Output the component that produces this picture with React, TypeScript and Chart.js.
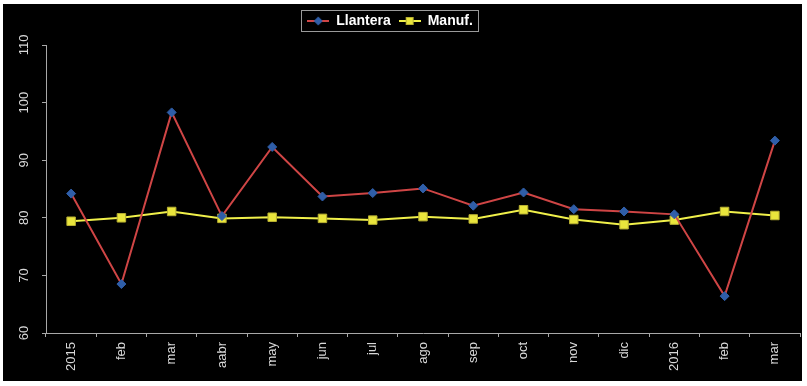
import { useEffect, useRef } from 'react';
import { Chart, registerables } from 'chart.js';

Chart.register(...registerables);

const categories = ['2015', 'feb', 'mar', 'aabr', 'may', 'jun', 'jul', 'ago', 'sep', 'oct', 'nov', 'dic', '2016', 'feb', 'mar'];
const llantera = [84.2, 68.5, 98.3, 80.3, 92.3, 83.7, 84.3, 85.1, 82.1, 84.4, 81.5, 81.1, 80.6, 66.4, 93.4];
const manuf = [79.4, 80.0, 81.1, 79.9, 80.1, 79.9, 79.6, 80.2, 79.8, 81.4, 79.7, 78.8, 79.6, 81.1, 80.4];
const yMin = 60;
const yMax = 110;
const yStep = 10;

const RED = '#cf4545';
const BLUE = '#2f5ea8';
const YELLOW_LINE = '#f0f04a';
const YELLOW_FILL = '#e9e53c';
const YELLOW_EDGE = '#b8b032';
const AXIS = '#a8a8a8';
const TEXT = '#d8d8d8';
const ICON_W = 22;

function legendIcon(kind: 'diamond' | 'square'): HTMLCanvasElement {
  const c = document.createElement('canvas');
  c.width = ICON_W;
  c.height = 12;
  const g = c.getContext('2d')!;
  const mid = ICON_W / 2;
  g.lineWidth = 2;
  g.strokeStyle = kind === 'diamond' ? RED : YELLOW_LINE;
  g.beginPath();
  g.moveTo(0, 6);
  g.lineTo(ICON_W, 6);
  g.stroke();
  if (kind === 'diamond') {
    g.fillStyle = BLUE;
    g.beginPath();
    g.moveTo(mid, 1.5);
    g.lineTo(mid + 4.5, 6);
    g.lineTo(mid, 10.5);
    g.lineTo(mid - 4.5, 6);
    g.closePath();
    g.fill();
  } else {
    g.fillStyle = YELLOW_FILL;
    g.fillRect(mid - 4, 2, 8, 8);
    g.strokeStyle = YELLOW_EDGE;
    g.lineWidth = 1;
    g.strokeRect(mid - 3.5, 2.5, 7, 7);
  }
  return c;
}

const backgroundPlugin = {
  id: 'bg',
  beforeDraw(chart: any) {
    const { ctx, width, height } = chart;
    ctx.save();
    ctx.fillStyle = '#ffffff';
    ctx.fillRect(0, 0, width, height);
    ctx.fillStyle = '#000000';
    ctx.fillRect(3, 4, 799, 377);
    ctx.restore();
  },
};

const legendShiftPlugin = {
  id: 'legendShift',
  afterLayout(chart: any) {
    const lg = chart.legend;
    if (!lg) return;
    const dx = -12;
    const dy = -7;
    lg.left += dx;
    lg.right += dx;
    lg.top += dy;
    lg.bottom += dy;
  },
};

const legendBoxPlugin = {
  id: 'legendBox',
  afterDraw(chart: any) {
    const lg = chart.legend;
    if (!lg || !lg.legendHitBoxes || !lg.legendHitBoxes.length) return;
    const boxes = lg.legendHitBoxes;
    let l = Infinity, r = -Infinity, t = Infinity, b = -Infinity;
    for (const h of boxes) {
      l = Math.min(l, h.left);
      r = Math.max(r, h.left + h.width);
      t = Math.min(t, h.top);
      b = Math.max(b, h.top + h.height);
    }
    const { ctx } = chart;
    ctx.save();
    ctx.strokeStyle = '#9a9a9a';
    ctx.lineWidth = 1;
    ctx.strokeRect(Math.round(l - 6) + 0.5, Math.round(t - 4) + 0.5, Math.round(r - l + 11), Math.round(b - t + 7));
    ctx.restore();
  },
};

export default function App() {
  const ref = useRef<HTMLCanvasElement | null>(null);

  useEffect(() => {
    document.body.style.margin = '0';
    const canvas = ref.current;
    if (!canvas) return;
    const icons = [legendIcon('diamond'), legendIcon('square')];
    const chart = new Chart(canvas, {
      type: 'line',
      data: {
        labels: categories,
        datasets: [
          {
            label: 'Llantera',
            data: llantera,
            borderColor: RED,
            borderWidth: 2,
            pointStyle: 'rectRot',
            pointRadius: 4.5,
            pointBackgroundColor: BLUE,
            pointBorderColor: BLUE,
            pointBorderWidth: 1,
            tension: 0,
          },
          {
            label: 'Manuf.',
            data: manuf,
            borderColor: YELLOW_LINE,
            borderWidth: 2,
            pointStyle: 'rect',
            pointRadius: 6,
            pointBackgroundColor: YELLOW_FILL,
            pointBorderColor: YELLOW_EDGE,
            pointBorderWidth: 1,
            tension: 0,
          },
        ],
      },
      options: {
        animation: false,
        responsive: false,
        maintainAspectRatio: false,
        layout: { padding: { left: 3, right: 6, top: 13, bottom: 0 } },
        plugins: {
          tooltip: { enabled: false },
          legend: {
            position: 'top',
            labels: {
              usePointStyle: true,
              pointStyleWidth: ICON_W,
              padding: 8,
              color: '#ffffff',
              font: { family: '"Liberation Sans", Arial, sans-serif', size: 14, weight: 'bold' },
              generateLabels: (ch: any) =>
                ch.data.datasets.map((ds: any, i: number) => ({
                  text: ds.label,
                  pointStyle: icons[i],
                  fillStyle: 'transparent',
                  strokeStyle: 'transparent',
                  lineWidth: 0,
                  fontColor: '#ffffff',
                  hidden: false,
                  datasetIndex: i,
                })),
            },
          },
        },
        scales: {
          x: {
            offset: true,
            grid: {
              display: true,
              drawOnChartArea: false,
              drawTicks: true,
              tickLength: 4,
              color: AXIS,
              offset: true,
            },
            border: { color: AXIS, width: 1 },
            ticks: {
              color: TEXT,
              minRotation: 90,
              maxRotation: 90,
              padding: 5,
              autoSkip: false,
              font: { family: '"Liberation Sans", Arial, sans-serif', size: 13 },
            },
            afterFit: (s: any) => {
              s.height = 53;
            },
          },
          y: {
            min: yMin,
            max: yMax,
            grid: {
              display: true,
              drawOnChartArea: false,
              drawTicks: true,
              tickLength: 4,
              color: AXIS,
            },
            border: { color: AXIS, width: 1 },
            ticks: {
              stepSize: yStep,
              color: TEXT,
              minRotation: 90,
              maxRotation: 90,
              crossAlign: 'center',
              padding: 7,
              font: { family: '"Liberation Sans", Arial, sans-serif', size: 13 },
            },
            afterFit: (s: any) => {
              s.width = 43;
            },
          },
        },
      },
      plugins: [backgroundPlugin, legendShiftPlugin, legendBoxPlugin],
    } as any);
    return () => chart.destroy();
  }, []);

  return (
    <div style={{ width: 807, height: 386 }}>
      <canvas ref={ref} width={807} height={386} style={{ display: 'block', width: 807, height: 386 }} />
    </div>
  );
}
